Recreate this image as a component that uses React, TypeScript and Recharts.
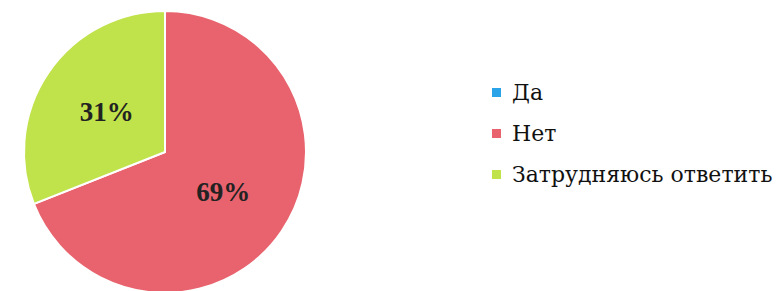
import React from "react";
import { PieChart, Pie, Cell, Legend } from "recharts";

const categories = ["Да", "Нет", "Затрудняюсь ответить"];
const values = [0, 69, 31];
const colors = ["#2AA3E8", "#E8636E", "#C0E24A"];

const data = categories.map((name, i) => ({ name, value: values[i] }));

const RADIAN = Math.PI / 180;
const SERIF = "Liberation Serif, Times New Roman, serif";
const LEGEND_FONT = "DejaVu Serif, serif";

const renderLabel = (props: any) => {
  const { cx, cy, midAngle, outerRadius, percent, value } = props;
  if (!value) return null;
  const r = outerRadius * 0.5;
  const x = cx + r * Math.cos(-midAngle * RADIAN);
  const y = cy + r * Math.sin(-midAngle * RADIAN);
  return (
    <text
      x={x}
      y={y}
      textAnchor="middle"
      dominantBaseline="central"
      fill="#222"
      fontFamily={SERIF}
      fontWeight="bold"
      fontSize={27}
    >
      {Math.round(percent * 100) + "%"}
    </text>
  );
};

const LegendContent = () => {
  return (
    <div>
      {categories.map((name, i) => (
        <div key={name} style={{ display: "flex", alignItems: "center", height: 41 }}>
          <span
            style={{
              display: "inline-block",
              width: 9,
              height: 9,
              background: colors[i],
              marginRight: 11,
              flex: "none",
            }}
          />
          <span style={{ fontFamily: LEGEND_FONT, fontSize: 22, color: "#111", whiteSpace: "nowrap" }}>{name}</span>
        </div>
      ))}
    </div>
  );
};

export default function App() {
  return (
    <div style={{ position: "absolute", left: 0, top: 0, width: 776, height: 291, background: "#fff" }}>
      <PieChart width={776} height={291} margin={{ top: 0, right: 0, bottom: 0, left: 0 }}>
        <Pie
          data={data}
          dataKey="value"
          nameKey="name"
          cx={165}
          cy={152}
          outerRadius={141}
          startAngle={90}
          endAngle={-270}
          stroke="#fff"
          strokeWidth={2}
          label={renderLabel}
          labelLine={false}
          isAnimationActive={false}
        >
          {data.map((d, i) => (
            <Cell key={d.name} fill={colors[i]} />
          ))}
        </Pie>
        <Legend
          layout="vertical"
          itemSorter={null as any}
          content={<LegendContent />}
          wrapperStyle={{ position: "absolute", left: 492, top: 72, width: 290 }}
        />
      </PieChart>
    </div>
  );
}
